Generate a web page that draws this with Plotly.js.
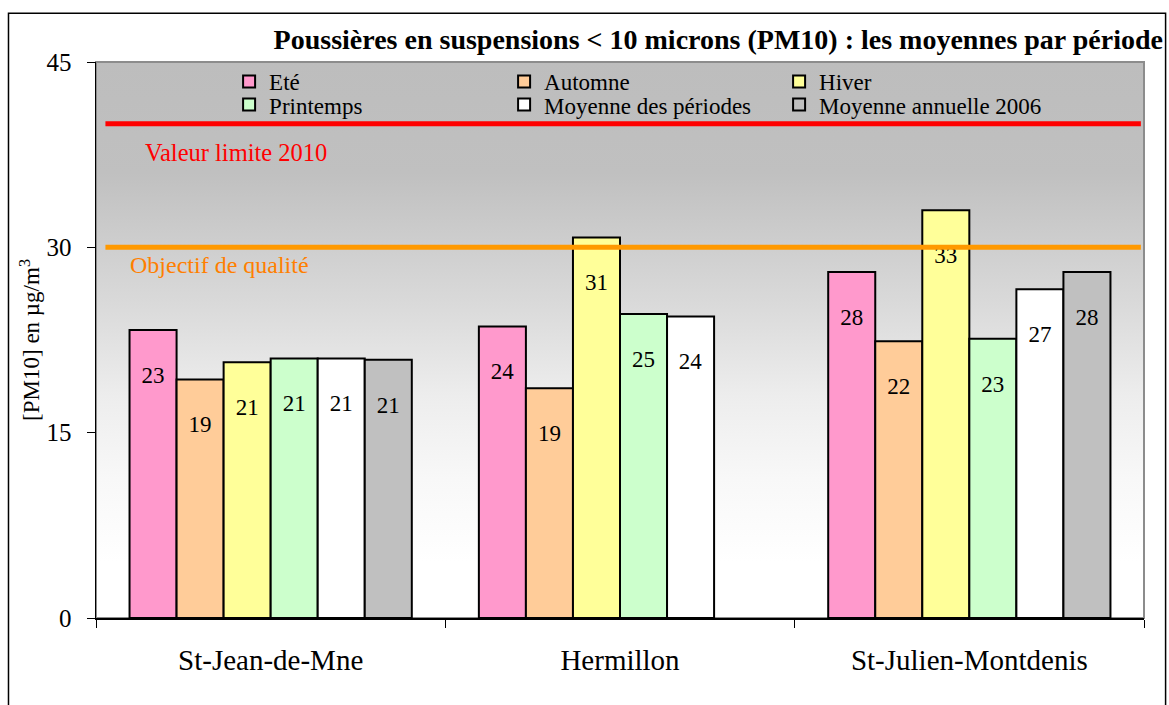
<!DOCTYPE html>
<html>
<head>
<meta charset="utf-8">
<script src="https://cdn.plot.ly/plotly-3.0.1.min.js"></script>
<style>html,body{margin:0;padding:0;background:#fff;}#chart{width:1169px;height:705px;}</style>
</head>
<body>
<div id="chart"></div>
<script>
// ---- data ----
const categories = ['St-Jean-de-Mne', 'Hermillon', 'St-Julien-Montdenis'];
const seriesNames = ['Eté', 'Automne', 'Hiver', 'Printemps', 'Moyenne des périodes', 'Moyenne annuelle 2006'];
const ete = [23.3, 23.6, 28.0];
const automne = [19.3, 18.6, 22.4];
const hiver = [20.7, 30.8, 33.0];
const printemps = [21.0, 24.6, 22.6];
const moyennePeriodes = [21.0, 24.4, 26.6];
const moyenneAnnuelle = [20.9, null, 28.0];
const valeurLimite = 40;
const objectifQualite = 30;
const yTicks = [0, 15, 30, 45];

// ---- styling ----
const colors = ['#FF99CC', '#FFCC99', '#FFFF99', '#CCFFCC', '#FFFFFF', '#C0C0C0'];
const legendOf = ['legend', 'legend', 'legend', 'legend2', 'legend2', 'legend2'];
const seriesValues = [ete, automne, hiver, printemps, moyennePeriodes, moyenneAnnuelle];
const FONT = 'Liberation Serif, Times New Roman, serif';

const traces = seriesValues.map((vals, i) => ({
  type: 'bar',
  name: seriesNames[i],
  legend: legendOf[i],
  x: categories,
  y: vals,
  marker: { color: colors[i], line: { color: '#000', width: 2 } },
  texttemplate: '\u00a0<br>%{y:.0f}',
  textposition: 'inside',
  insidetextanchor: 'end',
  textangle: 0,
  constraintext: 'none',
  textfont: { family: FONT, size: 23, color: '#000' },
  hoverinfo: 'x+y+name'
}));

const gradSvg = '<svg xmlns="http://www.w3.org/2000/svg" width="100" height="100" viewBox="0 0 100 100" preserveAspectRatio="none">' +
  '<defs><linearGradient id="g" x1="0" y1="0" x2="0" y2="1">' +
  '<stop offset="0" stop-color="#BDBDBD"/>' +
  '<stop offset="0.2" stop-color="#C0C0C0"/>' +
  '<stop offset="0.43" stop-color="#D9D9D9"/>' +
  '<stop offset="0.6" stop-color="#EDEDED"/>' +
  '<stop offset="0.75" stop-color="#F8F8F8"/>' +
  '<stop offset="0.9" stop-color="#FFFFFF"/>' +
  '<stop offset="1" stop-color="#FFFFFF"/>' +
  '</linearGradient></defs><rect x="0" y="0" width="100" height="100" fill="url(#g)"/></svg>';

const legendBase = {
  orientation: 'h',
  x: 0.127, xanchor: 'left',
  yanchor: 'top',
  bgcolor: 'rgba(0,0,0,0)',
  font: { family: FONT, size: 23, color: '#000' },
  entrywidth: 230, entrywidthmode: 'pixels',
  itemwidth: 30,
  traceorder: 'normal'
};

const layout = {
  width: 1169,
  height: 705,
  margin: { l: 96, r: 25, t: 62, b: 87 },
  paper_bgcolor: '#FFFFFF',
  plot_bgcolor: 'rgba(0,0,0,0)',
  font: { family: FONT, color: '#000' },
  barmode: 'group',
  bargap: 0.192,
  bargroupgap: 0,
  showlegend: true,
  title: {
    text: '<b>Poussières en suspensions &lt; 10 microns (PM10) : les moyennes par période</b>',
    font: { family: FONT, size: 28, color: '#000' },
    xref: 'container', yref: 'container',
    x: 1163 / 1169, xanchor: 'right',
    y: 1 - 39 / 705, yanchor: 'middle'
  },
  legend: Object.assign({}, legendBase, { y: 1.0036 }),
  legend2: Object.assign({}, legendBase, { y: 0.962 }),
  xaxis: {
    type: 'category',
    showline: true, linecolor: '#000', linewidth: 1.5,
    ticks: 'outside', tickson: 'boundaries', ticklen: 8, tickcolor: '#000', tickwidth: 1,
    tickfont: { family: FONT, size: 29, color: '#000' },
    ticklabelstandoff: 16,
    showgrid: false, zeroline: false, fixedrange: true
  },
  yaxis: {
    range: [0, 45],
    tickvals: yTicks,
    showline: true, linecolor: '#000', linewidth: 1.5,
    ticks: 'outside', ticklen: 8, tickcolor: '#000', tickwidth: 1,
    tickfont: { family: FONT, size: 25, color: '#000' },
    ticklabelstandoff: 10,
    showgrid: false, zeroline: false, fixedrange: true,
    title: { text: '[PM10] en µg/m<sup>3</sup>', font: { family: FONT, size: 23, color: '#000' }, standoff: 0 }
  },
  images: [{
    source: 'data:image/svg+xml;charset=utf-8,' + encodeURIComponent(gradSvg),
    xref: 'paper', yref: 'paper', x: 0, y: 1, sizex: 1, sizey: 1,
    sizing: 'stretch', xanchor: 'left', yanchor: 'top', layer: 'below'
  }],
  shapes: [
    // plot area border (gray)
    { type: 'rect', xref: 'paper', yref: 'paper', x0: 0, x1: 1, y0: 0, y1: 1,
      line: { color: '#8C8C8C', width: 2 }, fillcolor: 'rgba(0,0,0,0)', layer: 'below' },
    // outer frame
    { type: 'rect', xref: 'paper', yref: 'paper', x0: -0.0835, x1: 1.0206, y0: -0.2, y1: 1.0877,
      line: { color: '#000', width: 1.5 }, fillcolor: 'rgba(0,0,0,0)' },
    // limit lines
    { type: 'line', xref: 'paper', yref: 'y', x0: 0.009, x1: 0.997, y0: valeurLimite, y1: valeurLimite,
      line: { color: '#FF0000', width: 5 } },
    { type: 'line', xref: 'paper', yref: 'y', x0: 0.009, x1: 0.997, y0: objectifQualite, y1: objectifQualite,
      line: { color: '#FF9900', width: 5 } }
  ],
  annotations: [
    { text: 'Valeur limite 2010', xref: 'paper', yref: 'paper', x: 0.045, y: 0.838,
      xanchor: 'left', yanchor: 'middle', showarrow: false,
      font: { family: FONT, size: 24.5, color: '#FF0000' } },
    { text: 'Objectif de qualité', xref: 'paper', yref: 'paper', x: 0.0305, y: 0.635,
      xanchor: 'left', yanchor: 'middle', showarrow: false,
      font: { family: FONT, size: 24, color: '#FF7F00' } }
  ]
};

Plotly.newPlot('chart', traces, layout, { displayModeBar: false, staticPlot: true });
</script>
</body>
</html>
